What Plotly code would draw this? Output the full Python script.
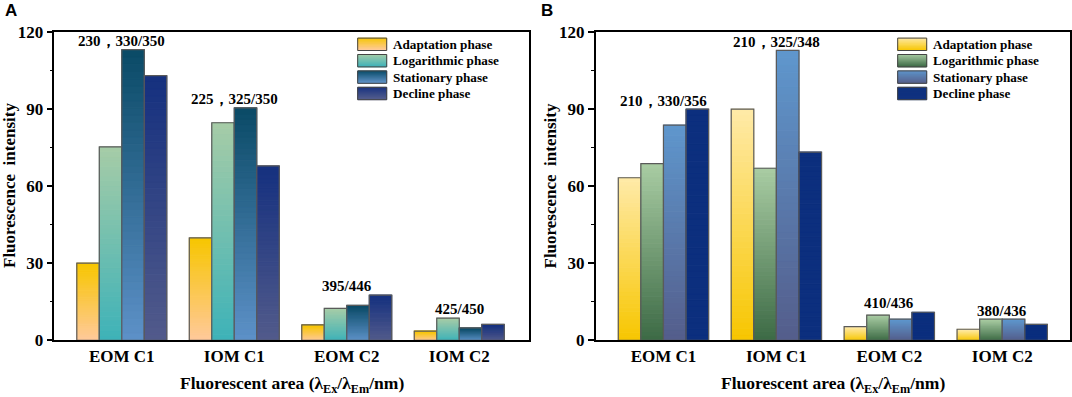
import plotly.graph_objects as go

categories = ["EOM C1", "IOM C1", "EOM C2", "IOM C2"]
series_names = ["Adaptation phase", "Logarithmic phase", "Stationary phase", "Decline phase"]

# Panel A values
a_adaptation = [30.0, 39.8, 6.0, 3.6]
a_logarithmic = [75.2, 84.6, 12.4, 8.6]
a_stationary = [113.0, 90.4, 13.6, 4.8]
a_decline = [102.9, 67.8, 17.6, 6.2]

# Panel B values
b_adaptation = [63.2, 89.9, 5.3, 4.3]
b_logarithmic = [68.7, 66.9, 9.8, 8.2]
b_stationary = [83.7, 112.7, 8.2, 8.2]
b_decline = [89.9, 73.2, 10.9, 6.2]

# Peak labels (text, category index, y position)
a_labels = ["230，330/350", "225，325/350", "395/446", "425/450"]
a_label_y = [116.4, 93.7, 21.1, 12.0]
b_labels = ["210，330/356", "210，325/348", "410/436", "380/436"]
b_label_y = [93.0, 116.0, 14.4, 11.5]

y_ticks = [0, 30, 60, 90, 120]

# gradient colors (top, bottom)
a_colors = [("#F7C600", "#FFC99C"), ("#A6CCA7", "#3DB2B8"),
            ("#0A4A66", "#5D91C8"), ("#15307F", "#525B8B")]
b_colors = [("#FFEAA8", "#F7C600"), ("#A9CCA3", "#3C6A45"),
            ("#5F97CD", "#545D8B"), ("#0C2F7E", "#0C2F7E")]

N = 40
W, H = 1072, 397


def hex2rgb(h):
    h = h.lstrip("#")
    return tuple(int(h[i:i + 2], 16) for i in (0, 2, 4))


def mix(c_top, c_bot, t):
    a = hex2rgb(c_top)
    b = hex2rgb(c_bot)
    r = [round(b[i] + (a[i] - b[i]) * t) for i in range(3)]
    return "rgb(%d,%d,%d)" % tuple(r)


fig = go.Figure()

panels = [
    ("x", "y", [a_adaptation, a_logarithmic, a_stationary, a_decline], a_colors),
    ("x2", "y2", [b_adaptation, b_logarithmic, b_stationary, b_decline], b_colors),
]

for xa, ya, data, cols in panels:
    for si, vals in enumerate(data):
        ctop, cbot = cols[si]
        for k in range(N):
            t = (k + 0.5) / N
            c = mix(ctop, cbot, t)
            fig.add_trace(go.Bar(
                x=categories, y=[v / N for v in vals], base=[v * k / N for v in vals],
                offsetgroup=str(si), xaxis=xa, yaxis=ya, showlegend=False,
                marker=dict(color=c, line=dict(color=c, width=1)),
                hoverinfo="skip"))
        fig.add_trace(go.Bar(
            x=categories, y=vals, offsetgroup=str(si), xaxis=xa, yaxis=ya,
            showlegend=False, name=series_names[si],
            marker=dict(color="rgba(0,0,0,0)", line=dict(color="#5a5a5a", width=1.2))))

font_serif = "Liberation Serif"
font_sans = "Liberation Sans"

yd = [1 - 340.3 / H, 1 - 31.7 / H]
axis_common = dict(showline=True, mirror=True, linecolor="black", linewidth=1.5,
                   showgrid=False, zeroline=False, automargin=False)

ytick_common = dict(range=[0, 120], tickvals=y_ticks, ticks="outside", ticklen=6,
                    tickwidth=1.5, tickcolor="black",
                    minor=dict(dtick=15, ticks="outside", ticklen=3, tickwidth=1.2,
                               tickcolor="black"),
                    tickfont=dict(size=17, family=font_serif, weight="bold"))

fig.update_layout(
    width=W, height=H, margin=dict(l=0, r=0, t=0, b=0, pad=0, autoexpand=False),
    paper_bgcolor="white", plot_bgcolor="white",
    barmode="group", bargap=0.2, bargroupgap=0,
    font=dict(family=font_serif, color="black", size=16),
    showlegend=False,
    xaxis=dict(domain=[54.3 / W, 529 / W], range=[-0.6, 3.62], ticks="",
               tickfont=dict(size=17, family=font_serif, weight="bold"), anchor="y", **axis_common),
    xaxis2=dict(domain=[595.7 / W, 1070 / W], range=[-0.6, 3.6], ticks="",
                tickfont=dict(size=17, family=font_serif, weight="bold"), anchor="y2", **axis_common),
    yaxis=dict(domain=yd, anchor="x", **ytick_common, **axis_common),
    yaxis2=dict(domain=yd, anchor="x2", **ytick_common, **axis_common),
)

ann = []
shapes = []
for xr, yr, labels, ly in [("x", "y", a_labels, a_label_y), ("x2", "y2", b_labels, b_label_y)]:
    for i, txt in enumerate(labels):
        ann.append(dict(x=i, y=ly[i], xref=xr, yref=yr, text="<b>%s</b>" % txt, showarrow=False,
                        font=dict(size=15, family=font_serif),
                        xanchor="center", yanchor="middle"))

# panel letters
for px, letter in [(3, "A"), (539, "B")]:
    ann.append(dict(x=px / W, y=1 - 11 / H, xref="paper", yref="paper", text="<b>%s</b>" % letter,
                    showarrow=False, xanchor="left", yanchor="middle",
                    font=dict(size=17, family=font_sans)))

# axis titles
for cx, ycx in [((54.3 + 529) / 2, 9), ((595.7 + 1070) / 2, 549.5)]:
    ann.append(dict(x=cx / W, y=1 - 384.5 / H, xref="paper", yref="paper",
                    text="<b>Fluorescent area (λ<sub>Ex</sub>/λ<sub>Em</sub>/nm)</b>", showarrow=False,
                    xanchor="center", yanchor="middle",
                    font=dict(size=17.5, family=font_serif)))
    ann.append(dict(x=ycx / W, y=1 - 186 / H, xref="paper", yref="paper",
                    text="<b>Fluorescence  intensity</b>", showarrow=False, textangle=-90,
                    xanchor="center", yanchor="middle",
                    font=dict(size=17, family=font_serif)))

# manual legends with gradient swatches
M = 12
for sx, cols in [(357.7, a_colors), (897.7, b_colors)]:
    for si in range(4):
        cy = 44.3 + si * 16.4
        y0, y1 = cy - 6.2, cy + 6.2
        for k in range(M):
            t0 = y0 + (y1 - y0) * k / M
            t1 = y0 + (y1 - y0) * (k + 1) / M
            c = mix(cols[si][0], cols[si][1], 1 - (k + 0.5) / M)
            shapes.append(dict(type="rect", xref="paper", yref="paper",
                               x0=sx / W, x1=(sx + 29) / W, y0=1 - t1 / H, y1=1 - t0 / H,
                               fillcolor=c, line=dict(width=0.8, color=c), layer="above"))
        shapes.append(dict(type="rect", xref="paper", yref="paper",
                           x0=sx / W, x1=(sx + 29) / W, y0=1 - y1 / H, y1=1 - y0 / H,
                           fillcolor="rgba(0,0,0,0)", line=dict(width=1, color="#444"), layer="above"))
        ann.append(dict(x=(sx + 33.3) / W, y=1 - cy / H, xref="paper", yref="paper",
                        text="<b>%s</b>" % series_names[si], showarrow=False, xanchor="left",
                        yanchor="middle", font=dict(size=13.2, family=font_serif)))

fig.update_layout(annotations=ann, shapes=shapes)
fig.write_html("out.html", config={"displayModeBar": False},
               post_script="document.body.style.margin='0';document.body.style.overflow='hidden';")
